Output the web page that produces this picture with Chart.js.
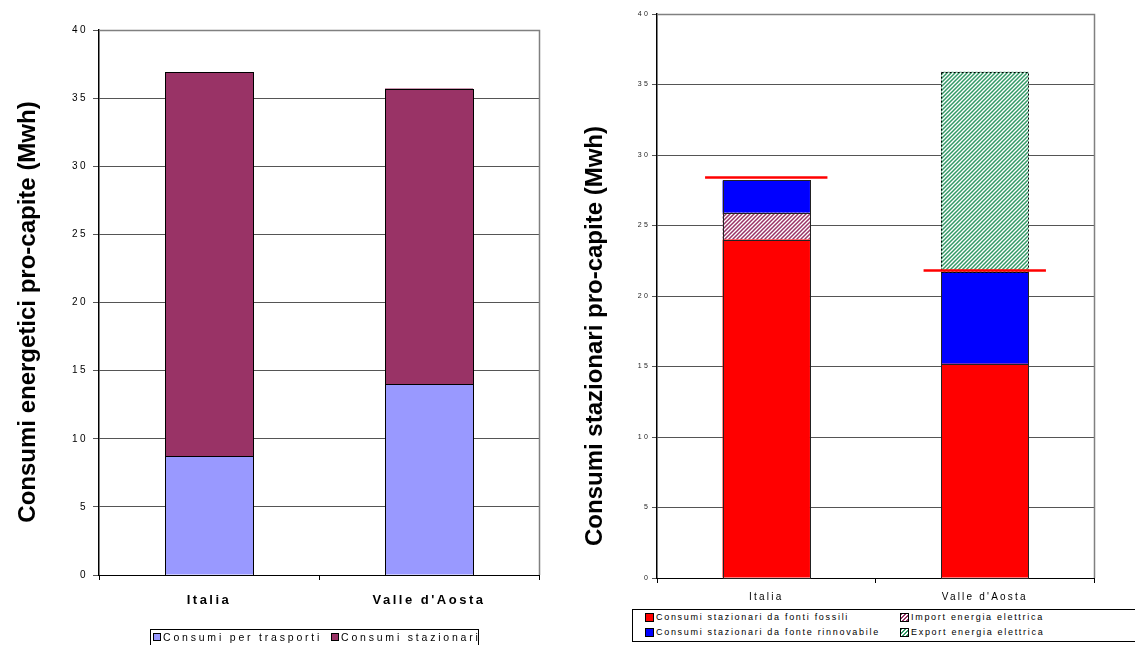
<!DOCTYPE html>
<html>
<head>
<meta charset="utf-8">
<script src="https://cdn.jsdelivr.net/npm/chart.js@4.4.1/dist/chart.umd.min.js"></script>
<style>
  body { margin: 0; background: #fff; width: 1135px; height: 645px; overflow: hidden; position: relative; font-family: "Liberation Sans", Arial, sans-serif; }
  .box { position: absolute; top: 0; height: 645px; }
  #leftBox { left: 0; width: 560px; }
  #rightBox { left: 560px; width: 575px; }
  .legend { position: absolute; border: 1px solid #000; background: #fff; color: #000; box-sizing: border-box; }
  #leftLegend { left: 150px; top: 629px; width: 329px; height: 24px; font-size: 10.5px; letter-spacing: 2.8px; }
  #rightLegend { left: 632px; top: 609px; width: 520px; height: 33px; font-size: 9px; letter-spacing: 1.7px; }
  .item { position: absolute; white-space: nowrap; display: flex; align-items: center; }
  .sw { display: inline-block; border: 1px solid #000; box-sizing: border-box; margin-right: 2px; }
</style>
</head>
<body>
<div class="box" id="leftBox"><canvas id="leftChart"></canvas></div>
<div class="box" id="rightBox"><canvas id="rightChart"></canvas></div>
<div class="legend" id="leftLegend"></div>
<div class="legend" id="rightLegend"></div>
<script>
'use strict';

//data
let categories = ['Italia', 'Valle d\'Aosta'];
let tickValues = [0, 5, 10, 15, 20, 25, 30, 35, 40];

//left chart series
let trasporti = [8.7, 14.0];
let stazionari = [28.2, 21.7];

//right chart series
let fossili = [24.0, 15.2];
let importEnergia = [1.9, 0];
let rinnovabile = [2.3, 6.5];
let exportEnergia = [0, 14.2];
let limiteConsumi = [28.4, 21.8];

//hatch pattern for import / export
function makeHatch(color){
  let c = document.createElement('canvas');
  c.width = 4;
  c.height = 4;
  let p = c.getContext('2d');
  p.fillStyle = '#ffffff';
  p.fillRect(0, 0, 4, 4);
  p.strokeStyle = color;
  p.lineWidth = 1.5;
  p.beginPath();
  p.moveTo(0, 4); p.lineTo(4, 0);
  p.moveTo(-4, 4); p.lineTo(4, -4);
  p.moveTo(0, 8); p.lineTo(8, 0);
  p.stroke();
  return p.createPattern(c, 'repeat');
}

//plugins
const spacingPlugin = {
  id: 'spacing',
  beforeLayout(chart, args, opts){ chart.ctx.letterSpacing = opts.value; },
  beforeDraw(chart, args, opts){ chart.ctx.letterSpacing = opts.value; }
};

const framePlugin = {
  id: 'frame',
  beforeDatasetsDraw(chart){
    let a = chart.chartArea;
    let ctx = chart.ctx;
    ctx.save();
    ctx.strokeStyle = '#808080';
    ctx.lineWidth = 1.5;
    ctx.beginPath();
    ctx.moveTo(a.left, a.top + 0.5);
    ctx.lineTo(a.right + 0.5, a.top + 0.5);
    ctx.lineTo(a.right + 0.5, a.bottom);
    ctx.stroke();
    ctx.restore();
  }
};

const axisTitlePlugin = {
  id: 'axisTitle',
  afterDraw(chart, args, opts){
    let ctx = chart.ctx;
    ctx.save();
    ctx.letterSpacing = '0px';
    ctx.translate(opts.x, opts.y);
    ctx.rotate(-Math.PI / 2);
    ctx.font = 'bold 24px "Liberation Sans", Arial, sans-serif';
    ctx.fillStyle = '#000000';
    ctx.textAlign = 'center';
    ctx.textBaseline = 'middle';
    ctx.fillText(opts.text, 0, 0);
    ctx.restore();
  }
};

//crisp outlines around every bar segment
const outlinePlugin = {
  id: 'outline',
  afterDatasetsDraw(chart, args, opts){
    let ctx = chart.ctx;
    ctx.save();
    ctx.strokeStyle = opts.color;
    ctx.lineWidth = 1;
    chart.data.datasets.forEach((ds, d) => {
      if(ds.dashed){
        return;
      }
      chart.getDatasetMeta(d).data.forEach((el, i) => {
        if(!ds.data[i]){
          return;
        }
        let x0 = Math.round(el.x - el.width / 2) + 0.5;
        let x1 = Math.round(el.x + el.width / 2) + 0.5;
        let y0 = Math.round(el.y) + 0.5;
        let y1 = Math.round(el.base) + 0.5;
        ctx.strokeRect(x0, y0, x1 - x0, y1 - y0);
      });
    });
    ctx.restore();
  }
};

const redLinesPlugin = {
  id: 'redLines',
  afterDatasetsDraw(chart){
    let ctx = chart.ctx;
    let xScale = chart.scales.x;
    let yScale = chart.scales.y;
    ctx.save();
    //dotted border of the export bar
    let exp = chart.getDatasetMeta(3).data;
    ctx.strokeStyle = '#000000';
    ctx.lineWidth = 1;
    ctx.setLineDash([2, 2]);
    for(let i = 0; i < exp.length; i++){
      if(exportEnergia[i] > 0){
        let el = exp[i];
        let x0 = Math.round(el.x - el.width / 2) + 0.5;
        let x1 = Math.round(el.x + el.width / 2) + 0.5;
        ctx.strokeRect(x0, Math.round(el.y) + 0.5, x1 - x0, Math.round(el.base - el.y));
      }
    }
    ctx.setLineDash([]);
    //red reference lines
    let bars = chart.getDatasetMeta(0).data;
    ctx.strokeStyle = '#ff0000';
    ctx.lineWidth = 2.5;
    for(let i = 0; i < limiteConsumi.length; i++){
      let x = xScale.getPixelForValue(i);
      let half = bars[i].width * 0.7;
      let y = yScale.getPixelForValue(limiteConsumi[i]);
      ctx.beginPath();
      ctx.moveTo(x - half, y);
      ctx.lineTo(x + half, y);
      ctx.stroke();
    }
    ctx.restore();
  }
};

//shared scales
function buildScales(opt){
  return {
    x: {
      stacked: true,
      grid: { display: true, drawOnChartArea: false, drawTicks: true, tickLength: 5, color: '#000000' },
      border: { display: true, color: '#000000', width: 1 },
      ticks: { color: '#000000', padding: opt.xPad, font: { family: '"Liberation Sans", Arial, sans-serif', size: opt.xSize, weight: opt.xWeight } },
      afterFit(scale){ scale.height = opt.xHeight; }
    },
    y: {
      stacked: true,
      min: 0,
      max: 40,
      afterBuildTicks(scale){ scale.ticks = tickValues.map(v => ({ value: v })); },
      grid: { color: '#555555', lineWidth: 1, tickLength: opt.tickLen, drawTicks: true },
      border: { display: true, color: '#000000', width: 1.5 },
      ticks: { color: opt.yColor, padding: opt.yPad, font: { family: '"Liberation Sans", Arial, sans-serif', size: opt.ySize } },
      afterFit(scale){ scale.width = opt.yWidth; }
    }
  };
}

//left chart
new Chart(document.getElementById('leftChart'), {
  type: 'bar',
  data: {
    labels: categories,
    datasets: [{
      label: 'Consumi per trasporti',
      data: trasporti,
      backgroundColor: '#9999ff',
      borderWidth: 0
    },
    {
      label: 'Consumi stazionari',
      data: stazionari,
      backgroundColor: '#993366',
      borderWidth: 0
    }]
  },
  options: {
    responsive: true,
    maintainAspectRatio: false,
    animation: false,
    categoryPercentage: 1,
    barPercentage: 0.4,
    layout: { padding: { left: 0, right: 21, top: 30, bottom: 0 } },
    scales: buildScales({ xPad: 13, xSize: 13, xWeight: 'bold', xHeight: 70, tickLen: 6, yColor: '#000000', yPad: 5, ySize: 10, yWidth: 99 }),
    plugins: {
      legend: { display: false },
      tooltip: { enabled: false },
      spacing: { value: '2.5px' },
      outline: { color: '#000000' },
      axisTitle: { text: 'Consumi energetici pro-capite (Mwh)', x: 28, y: 312 }
    }
  },
  plugins: [spacingPlugin, framePlugin, outlinePlugin, axisTitlePlugin]
});

//right chart
new Chart(document.getElementById('rightChart'), {
  type: 'bar',
  data: {
    labels: categories,
    datasets: [{
      label: 'Consumi stazionari da fonti fossili',
      data: fossili,
      backgroundColor: '#ff0000',
      borderWidth: 0
    },
    {
      label: 'Import energia elettrica',
      data: importEnergia,
      backgroundColor: makeHatch('#993366'),
      borderWidth: 0
    },
    {
      label: 'Consumi stazionari da fonte rinnovabile',
      data: rinnovabile,
      backgroundColor: '#0000ff',
      borderWidth: 0
    },
    {
      label: 'Export energia elettrica',
      data: exportEnergia,
      backgroundColor: makeHatch('#339966'),
      borderWidth: 0,
      dashed: true
    }]
  },
  options: {
    responsive: true,
    maintainAspectRatio: false,
    animation: false,
    categoryPercentage: 1,
    barPercentage: 0.4,
    layout: { padding: { left: 0, right: 41, top: 14, bottom: 0 } },
    scales: buildScales({ xPad: 8, xSize: 10, xWeight: 'normal', xHeight: 67, tickLen: 5, yColor: '#222222', yPad: 2, ySize: 7, yWidth: 97 }),
    plugins: {
      legend: { display: false },
      tooltip: { enabled: false },
      spacing: { value: '2.2px' },
      outline: { color: '#222222' },
      axisTitle: { text: 'Consumi stazionari pro-capite (Mwh)', x: 35, y: 336 }
    }
  },
  plugins: [spacingPlugin, framePlugin, outlinePlugin, axisTitlePlugin, redLinesPlugin]
});

//legends
function addItem(container, text, bg, size, left, top){
  let item = document.createElement('div');
  item.className = 'item';
  item.style.left = left + 'px';
  item.style.top = top + 'px';
  let sw = document.createElement('span');
  sw.className = 'sw';
  sw.style.width = size + 'px';
  sw.style.height = size + 'px';
  sw.style.background = bg;
  let label = document.createElement('span');
  label.textContent = text;
  item.appendChild(sw);
  item.appendChild(label);
  container.appendChild(item);
}

let leftLegend = document.getElementById('leftLegend');
addItem(leftLegend, 'Consumi per trasporti', '#9999ff', 8, 2, 1);
addItem(leftLegend, 'Consumi stazionari', '#993366', 8, 180, 1);

let rightLegend = document.getElementById('rightLegend');
addItem(rightLegend, 'Consumi stazionari da fonti fossili', '#ff0000', 9, 12, 2);
addItem(rightLegend, 'Consumi stazionari da fonte rinnovabile', '#0000ff', 9, 12, 17);
addItem(rightLegend, 'Import energia elettrica', 'repeating-linear-gradient(135deg, #993366 0 1.4px, #ffffff 1.4px 2.8px)', 9, 267, 2);
addItem(rightLegend, 'Export energia elettrica', 'repeating-linear-gradient(135deg, #339966 0 1.4px, #ffffff 1.4px 2.8px)', 9, 267, 17);
</script>
</body>
</html>
